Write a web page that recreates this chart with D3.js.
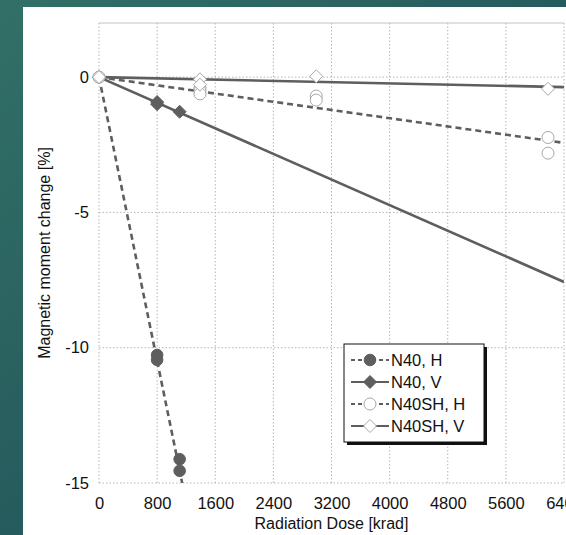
<!DOCTYPE html>
<html>
<head>
<meta charset="utf-8">
<script src="https://cdn.jsdelivr.net/npm/d3@7"></script>
<style>
  html, body { margin: 0; padding: 0; overflow: hidden; }
  svg { display: block; font-family: "Liberation Sans", Arial, sans-serif; }
</style>
</head>
<body>
<div id="chart"></div>
<script>
var doseTicks = [0, 800, 1600, 2400, 3200, 4000, 4800, 5600, 6400];
var changeTicks = [0, -5, -10, -15];

var n40H_dose = [0, 800, 800, 1110, 1110];
var n40H_change = [0, -10.27, -10.45, -14.12, -14.55];

var n40V_dose = [0, 800, 800, 1110];
var n40V_change = [0, -0.92, -1.0, -1.28];

var n40shH_dose = [0, 1390, 1390, 1390, 2990, 2990, 6180, 6180];
var n40shH_change = [0, -0.4, -0.5, -0.62, -0.7, -0.85, -2.23, -2.81];

var n40shV_dose = [0, 1390, 1390, 2990, 6180];
var n40shV_change = [0, -0.08, -0.28, 0.03, -0.43];

// linear fit lines (start / end points)
var n40H_fit = [[0, 0], [1145, -15]];
var n40V_fit = [[0, 0], [6400, -7.57]];
var n40shH_fit = [[0, 0], [6400, -2.43]];
var n40shV_fit = [[0, 0], [6400, -0.37]];

var legendLabels = ["N40, H", "N40, V", "N40SH, H", "N40SH, V"];

var svgWidth = 566, svgHeight = 535;
var margin = { top: 23, left: 99, right: 2, bottom: 52 };
var width = svgWidth - margin.left - margin.right;
var height = svgHeight - margin.top - margin.bottom;

var svg = d3.select("#chart").append("svg")
  .attr("width", svgWidth)
  .attr("height", svgHeight);

// teal slide background
var defs = svg.append("defs");
var grad = defs.append("linearGradient").attr("id", "bg")
  .attr("x1", "0").attr("y1", "0").attr("x2", "1").attr("y2", "1");
grad.append("stop").attr("offset", "0%").attr("stop-color", "#327067");
grad.append("stop").attr("offset", "100%").attr("stop-color", "#1b4753");
svg.append("rect").attr("width", svgWidth).attr("height", svgHeight).attr("fill", "url(#bg)");
svg.append("rect").attr("x", 23).attr("y", 7)
  .attr("width", svgWidth - 23).attr("height", svgHeight - 7).attr("fill", "white");

defs.append("clipPath").attr("id", "plotclip")
  .append("rect").attr("width", width).attr("height", height);

var g = svg.append("g").attr("transform", `translate(${margin.left}, ${margin.top})`);

var x = d3.scaleLinear().domain([0, 6400]).range([0, width]);
var y = d3.scaleLinear().domain([-15, 2]).range([height, 0]);

// gridlines
g.append("g").selectAll("line").data(doseTicks).enter().append("line")
  .attr("x1", d => x(d)).attr("x2", d => x(d))
  .attr("y1", 0).attr("y2", height)
  .attr("stroke", "#b5b5b5").attr("stroke-dasharray", "1.5,2");
g.append("g").selectAll("line").data(changeTicks).enter().append("line")
  .attr("x1", 0).attr("x2", width)
  .attr("y1", d => y(d)).attr("y2", d => y(d))
  .attr("stroke", "#b5b5b5").attr("stroke-dasharray", "1.5,2");
g.append("line").attr("x1", 0).attr("x2", width).attr("y1", 0).attr("y2", 0)
  .attr("stroke", "#c4c4c4").attr("stroke-width", 1.2);

// axes (labels only, no domain path)
var bottomAxis = d3.axisBottom(x).tickValues(doseTicks).tickSize(0).tickPadding(14)
  .tickFormat(d3.format("d"));
var leftAxis = d3.axisLeft(y).tickValues(changeTicks).tickSize(0).tickPadding(10)
  .tickFormat(d => d < 0 ? "-" + Math.abs(d) : d);
var xAxisG = g.append("g").attr("transform", `translate(0, ${height})`).call(bottomAxis);
var yAxisG = g.append("g").call(leftAxis);
[xAxisG, yAxisG].forEach(function (a) {
  a.select(".domain").remove();
  a.selectAll("text").attr("font-size", 16.5).attr("fill", "#111")
    .attr("font-family", "Liberation Sans, Arial, sans-serif");
});

// axis titles
g.append("text")
  .attr("x", width / 2).attr("y", height + 46)
  .attr("text-anchor", "middle").attr("font-size", 16).attr("fill", "#111")
  .text("Radiation Dose [krad]");
g.append("text")
  .attr("transform", "rotate(-90)")
  .attr("x", -height / 2).attr("y", -49)
  .attr("text-anchor", "middle").attr("font-size", 16).attr("fill", "#111")
  .text("Magnetic moment change [%]");

var lineColor = "#5e5e5e";
var openStroke = "#a8a8a8";
var line = d3.line().x(d => x(d[0])).y(d => y(d[1]));
var plot = g.append("g").attr("clip-path", "url(#plotclip)");

var series = [
  { dose: n40H_dose, change: n40H_change, fit: n40H_fit, dash: "6,4", marker: "circle", filled: true },
  { dose: n40V_dose, change: n40V_change, fit: n40V_fit, dash: null, marker: "diamond", filled: true },
  { dose: n40shH_dose, change: n40shH_change, fit: n40shH_fit, dash: "6,4", marker: "circle", filled: false },
  { dose: n40shV_dose, change: n40shV_change, fit: n40shV_fit, dash: null, marker: "diamond", filled: false }
];

function drawMarker(sel, s, cx, cy) {
  var fill = s.filled ? lineColor : "white";
  var stroke = s.filled ? lineColor : openStroke;
  if (s.marker === "circle") {
    sel.append("circle").attr("cx", cx).attr("cy", cy).attr("r", s.filled ? 5.8 : 6)
      .attr("fill", fill).attr("stroke", stroke).attr("stroke-width", 1);
  } else {
    var r = 6.5;
    sel.append("path")
      .attr("d", `M${cx},${cy - r}L${cx + r},${cy}L${cx},${cy + r}L${cx - r},${cy}Z`)
      .attr("fill", fill).attr("stroke", stroke).attr("stroke-width", 1);
  }
}

// fit lines first
series.forEach(function (s) {
  plot.append("path").datum(s.fit).attr("d", line)
    .attr("fill", "none").attr("stroke", lineColor).attr("stroke-width", 2.6)
    .attr("stroke-dasharray", s.dash);
});
// then markers
series.forEach(function (s) {
  var pg = g.append("g");
  s.dose.forEach(function (d, i) {
    drawMarker(pg, s, x(d), y(s.change[i]));
  });
});

// legend
var lg = g.append("g").attr("transform", `translate(${344 - margin.left}, ${344 - margin.top})`);
var lgW = 140, lgH = 98;
lg.append("rect").attr("x", 3).attr("y", 3).attr("width", lgW).attr("height", lgH).attr("fill", "#111");
lg.append("rect").attr("width", lgW).attr("height", lgH).attr("fill", "white")
  .attr("stroke", "#111").attr("stroke-width", 1);
series.forEach(function (s, i) {
  var ry = 16 + i * 22;
  lg.append("line").attr("x1", 7).attr("x2", 45).attr("y1", ry).attr("y2", ry)
    .attr("stroke", lineColor).attr("stroke-width", 2.2).attr("stroke-dasharray", s.dash ? "4,3" : null);
  drawMarker(lg, s, 26, ry);
  lg.append("text").attr("x", 47).attr("y", ry + 6).attr("font-size", 16.5).attr("fill", "#111")
    .text(legendLabels[i]);
});
</script>
</body>
</html>
